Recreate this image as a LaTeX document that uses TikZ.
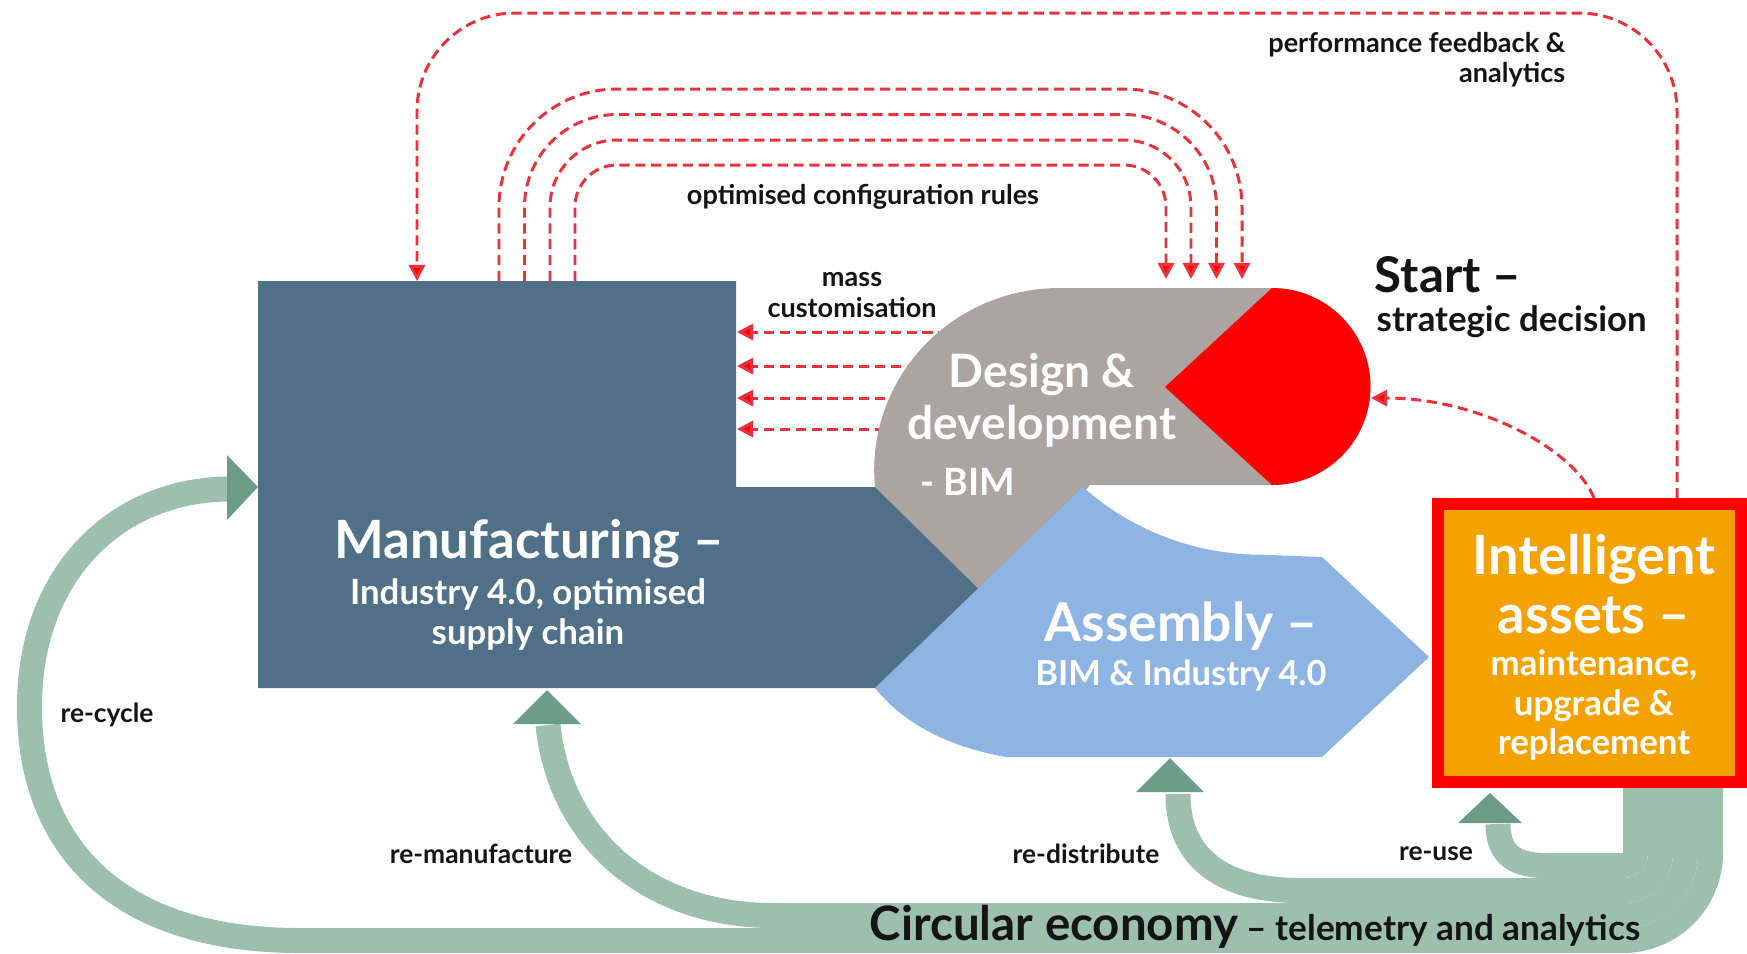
\documentclass[tikz,border=0pt]{standalone}
\usepackage{fontspec}
\setmainfont{Lato}
\usetikzlibrary{arrows.meta}
\definecolor{mfg}{RGB}{80,112,136}
\definecolor{dgray}{RGB}{171,164,160}
\definecolor{sred}{RGB}{255,0,0}
\definecolor{asm}{RGB}{141,180,226}
\definecolor{orng}{RGB}{245,162,0}
\definecolor{grn}{RGB}{157,192,174}
\definecolor{grnd}{RGB}{108,156,134}
\definecolor{dred}{RGB}{232,50,60}
\definecolor{ink}{RGB}{20,20,20}
\newcommand{\fsz}[2]{\fontsize{#1}{#2}\selectfont}
\begin{document}
\begin{tikzpicture}[x=0.01cm,y=-0.01cm,
  fb/.style={draw=dred, line width=0.85pt, dash pattern=on 2.9pt off 1.6pt,
     -{Triangle[length=4.6pt,width=4.6pt,fill=sred]}},
  band/.style={draw=grn, line width=0.25cm},
  ahead/.style={fill=grnd},
  wt/.style={text=white, font=\bfseries, inner sep=0pt, align=center},
  bt/.style={text=ink, font=\bfseries, inner sep=0pt, align=center}]
\useasboundingbox (0,0) rectangle (1747,953);
% ---------- green circular-economy bands ----------
\coordinate (cc) at (1623,853);
\draw[band] (1710.5,786) -- (1710.5,853) arc[start angle=0,end angle=90,radius=87.5]
  -- (300,940.5) .. controls (115,940.5) and (29.5,845) .. (29.5,707)
  .. controls (29.5,570) and (120,489) .. (230,489);
\draw[band] (1685.5,786) -- (1685.5,853) arc[start angle=0,end angle=90,radius=62.5]
  -- (773,915.5) .. controls (650,915.5) and (560,840) .. (548,725);
\draw[band] (1660.5,786) -- (1660.5,853) arc[start angle=0,end angle=90,radius=37.5]
  -- (1300,890.5) .. controls (1225,890.5) and (1178,860) .. (1178,794);
\draw[band] (1635.5,786) -- (1635.5,853) arc[start angle=0,end angle=90,radius=12.5]
  -- (1545,865.5) .. controls (1510,865.5) and (1498,850) .. (1498,824);
% ---------- mass customisation arrows (under design shape) ----------
\coordinate (mfgR) at (737,0);
\foreach \yy in {332,366,398,429} \draw[fb] (980,\yy) -- (mfgR |- 0,\yy);
% ---------- manufacturing ----------
\fill[mfg] (258,281) -- (736,281) -- (736,487) -- (900,487) -- (1000,590)
  -- (900,688) -- (258,688) -- cycle;
\coordinate (mfgL) at (258,487);
\coordinate (mfgB) at (547,688);
% ---------- design & development ----------
\fill[dgray] (875,487) .. controls (865,380) and (950,288) .. (1060,288)
  -- (1272,288) arc[start angle=-90,end angle=90,radius=98.5]
  -- (1090,485) -- (990,600) -- cycle;
\fill[sred] (1272,288) -- (1165,387) -- (1272,485)
  arc[start angle=90,end angle=-90,radius=98.5] -- cycle;
% ---------- assembly ----------
\fill[asm] (875,688) -- (1083,487) arc[start angle=131.7,end angle=90,radius=267]
  -- (1322,557) -- (1429,657) -- (1322,757) -- (1006,757)
  .. controls (950,747) and (905,725) .. (875,688) -- cycle;
% ---------- intelligent assets ----------
\draw[sred, fill=orng, line width=0.12cm] (1438,504) rectangle (1741,782);
% ---------- green arrow heads ----------
\fill[ahead] (mfgL) -- (227,455) -- (227,520) -- cycle;
\fill[ahead] (547,690) -- (513,724) -- (581,724) -- cycle;
\fill[ahead] (1170,758) -- (1136,792) -- (1204,792) -- cycle;
\fill[ahead] (1490,793) -- (1458,823) -- (1522,823) -- cycle;
% ---------- feedback loops ----------
\draw[fb] (1677,498) -- (1677,111) arc[start angle=0,end angle=-90,radius=98]
  -- (515,13) arc[start angle=-90,end angle=-180,radius=98] -- (417,281);
\foreach \r in {118,92.5,67,42}
  \draw[fb] ({617-\r},281) -- ({617-\r},207) arc[start angle=180,end angle=270,radius=\r]
    -- (1124,{207-\r}) arc[start angle=270,end angle=360,radius=\r] -- ({1124+\r},279);
\draw[fb] (1594,498) .. controls (1575,450) and (1480,398) .. (1371,398);
% ---------- texts ----------
\node[bt, anchor=east, align=right, font=\bfseries\fsz{7.7}{8.6}] (perf) at (1566,60)
  {performance feedback \&\\analytics};
\node[bt, font=\bfseries\fsz{7.7}{9}] (ocr) at (863,197) {optimised configuration rules};
\node[bt, font=\bfseries\fsz{7.7}{8.6}] (mass) at (852,295) {mass\\customisation};
\node[bt, anchor=west, font=\bfseries\fsz{14}{16}] (start) at (1374,275) {Start –};
\node[bt, anchor=west, font=\bfseries\fsz{9.9}{11}] (strat) at (1376,322) {strategic decision};
\node[wt, font=\bfseries\fsz{13.1}{14.8}] (des) at (1042,400) {Design \&\\development};
\node[wt, anchor=west, font=\bfseries\fsz{10.7}{12}] (bim) at (920,482) {- BIM};
\node[wt, font=\bfseries\fsz{15}{17}] (mfgt) at (529,544) {Manufacturing –};
\node[wt, font=\bfseries\fsz{9.9}{11.4}] (mfgs) at (528,614) {Industry 4.0, optimised\\supply chain};
\node[wt, font=\bfseries\fsz{15.2}{17}] (asmt) at (1181,626) {Assembly –};
\node[wt, font=\bfseries\fsz{9.8}{11}] (asms) at (1181,676) {BIM \& Industry 4.0};
\node[wt, font=\bfseries\fsz{15.4}{17}] (iat) at (1594,584) {Intelligent\\assets –};
\node[wt, font=\bfseries\fsz{9.9}{11.3}] (ias) at (1594,705) {maintenance,\\upgrade \&\\replacement};
\node[bt, font=\bfseries\fsz{7.5}{9}] (rc) at (107,715) {re-cycle};
\node[bt, font=\bfseries\fsz{7.5}{9}] (rm) at (481,854) {re-manufacture};
\node[bt, font=\bfseries\fsz{7.5}{9}] (rd) at (1086,854) {re-distribute};
\node[bt, font=\bfseries\fsz{7.5}{9}] (ru) at (1436,854) {re-use};
\node[bt, anchor=base west] (ce) at (869,940)
  {{\fsz{13.5}{15}Circular economy} {\fsz{10}{11}– telemetry and analytics}};
\end{tikzpicture}
\end{document}
